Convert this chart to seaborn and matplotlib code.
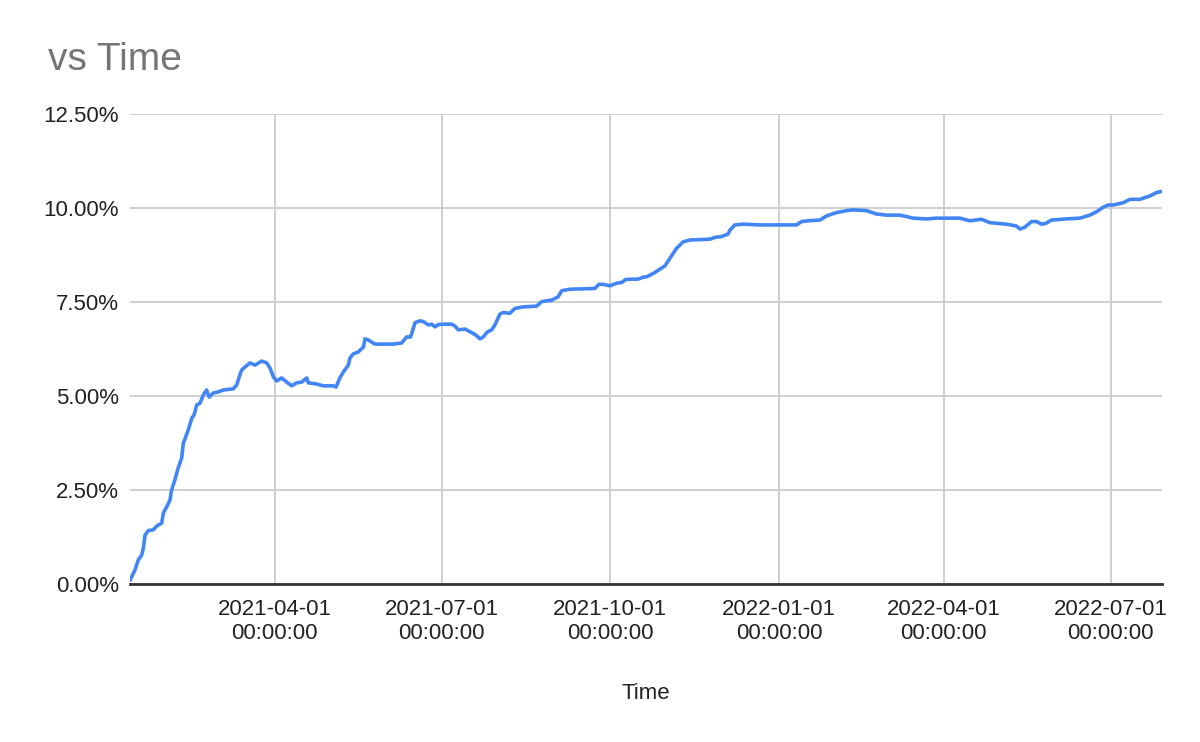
import pandas as pd
import seaborn as sns
import matplotlib.pyplot as plt
from matplotlib.ticker import FuncFormatter

# values: days after the first sample, and % value
start_date = "2021-01-12"
days = [0, 2.7, 4.5, 6.4, 7.3, 8.2, 10.0, 12.7, 14.6, 17.3, 18.2, 20.0, 21.8, 22.7,
        24.5, 26.3, 28.2, 29.1, 30.0, 31.8, 33.7, 34.9, 36.4, 38.2, 40.0, 41.8, 43.2,
        45.4, 48.2, 50.9, 56.3, 58.2, 59.6, 60.9, 62.7, 65.5, 68.2, 71.8, 74.6, 76.4,
        78.2, 80.0, 82.7, 85.5, 88.2, 90.9, 93.7, 96.4, 97.3, 101.8, 105.4, 110.9,
        112.4, 114.5, 116.4, 119.1, 120.0, 121.8, 124.5, 127.3, 128.2, 130.0, 133.6,
        143.6, 148.2, 150.9, 153.1, 155.5, 158.2, 160.0, 162.7, 164.6, 166.4, 168.2,
        170.9, 175.5, 177.3, 179.1, 182.7, 185.5, 188.7, 190.9, 192.7, 194.9, 197.3,
        199.1, 201.8, 203.6, 207.3, 210.0, 214.5, 221.8, 224.6, 230.0, 233.6, 235.5,
        240.0, 247.3, 253.6, 255.8, 258.2, 261.8, 265.5, 268.2, 270.5, 277.3, 280.0,
        281.8, 285.5, 291.8, 294.5, 298.2, 301.8, 305.5, 316.4, 319.1, 322.7, 326.3,
        327.3, 330.0, 334.6, 343.6, 363.6, 366.4, 370.0, 376.4, 380.0, 385.5, 390.9,
        394.5, 401.8, 407.3, 412.7, 420.0, 427.3, 434.6, 440.0, 452.7, 458.2, 464.6,
        469.1, 478.2, 483.6, 485.5, 488.2, 491.8, 494.5, 497.3, 499.6, 502.7, 510.9,
        518.2, 523.6, 527.3, 530.9, 533.6, 536.4, 541.8, 545.5, 550.9, 556.4, 560.0,
        562.7]
values = [0.10, 0.37, 0.64, 0.77, 0.96, 1.30, 1.42, 1.44, 1.54, 1.62, 1.89, 2.05, 2.23, 2.50,
          2.77, 3.09, 3.35, 3.75, 3.86, 4.10, 4.41, 4.49, 4.76, 4.81, 5.03, 5.16, 4.97,
          5.08, 5.11, 5.16, 5.19, 5.29, 5.51, 5.69, 5.77, 5.88, 5.82, 5.93, 5.88, 5.74,
          5.51, 5.40, 5.48, 5.37, 5.27, 5.35, 5.37, 5.48, 5.35, 5.32, 5.27, 5.27,
          5.24, 5.48, 5.64, 5.82, 6.01, 6.12, 6.17, 6.30, 6.52, 6.49, 6.38,
          6.38, 6.41, 6.57, 6.57, 6.95, 7.00, 6.98, 6.89, 6.91, 6.84, 6.90,
          6.91, 6.91, 6.86, 6.76, 6.78, 6.71, 6.62, 6.52, 6.57, 6.70, 6.76,
          6.89, 7.18, 7.22, 7.20, 7.33, 7.37, 7.39, 7.51, 7.55, 7.64, 7.80,
          7.84, 7.85, 7.86, 7.97, 7.97, 7.93, 8.00, 8.02, 8.10, 8.11, 8.16,
          8.17, 8.26, 8.46, 8.66, 8.93, 9.10, 9.15, 9.17, 9.22, 9.24, 9.31,
          9.41, 9.55, 9.57, 9.55, 9.55, 9.64, 9.66, 9.68, 9.79, 9.88, 9.93,
          9.95, 9.93, 9.84, 9.81, 9.81, 9.73, 9.71, 9.73, 9.73, 9.66, 9.70,
          9.61, 9.57, 9.52, 9.44, 9.49, 9.64, 9.64, 9.57, 9.59, 9.68, 9.71,
          9.73, 9.81, 9.90, 10.02, 10.08, 10.08, 10.14, 10.23, 10.23, 10.32, 10.41,
          10.44]
tick_dates = ["2021-04-01", "2021-07-01", "2021-10-01", "2022-01-01", "2022-04-01", "2022-07-01"]
y_ticks = [0, 2.5, 5, 7.5, 10, 12.5]

df = pd.DataFrame({"Time": pd.Timestamp(start_date) + pd.to_timedelta(days, unit="D"),
                   "Value": values})

sns.set_theme(style="white")
plt.rcParams['font.family'] = ['Liberation Sans', 'DejaVu Sans']

fig = plt.figure(figsize=(12, 7.42), dpi=100)
ax = fig.add_axes([130/1200, 1 - 584/742, (1162 - 130)/1200, (584 - 114)/742])

sns.lineplot(data=df, x="Time", y="Value", ax=ax, color="#4285F4", linewidth=2.6,
             solid_joinstyle="round", solid_capstyle="round")

ax.set_xlim(pd.Timestamp("2021-01-12"), pd.Timestamp("2022-07-29"))
ax.set_ylim(0, 12.5)
ax.set_yticks(y_ticks)
ax.yaxis.set_major_formatter(FuncFormatter(lambda v, p: f"{v:.2f}%"))
ax.set_xticks(pd.to_datetime(tick_dates))
ax.set_xticklabels([d + "\n00:00:00" for d in tick_dates], linespacing=1.2)

ax.grid(True, color="#cccccc", linewidth=1.3)
ax.set_axisbelow(True)
for s in ["top", "right", "left"]:
    ax.spines[s].set_visible(False)
ax.spines["bottom"].set_color("#333333")
ax.spines["bottom"].set_linewidth(2)
ax.spines["bottom"].set_zorder(3)

ax.tick_params(axis="both", length=0, labelsize=16, colors="#222222")
ax.tick_params(axis="y", pad=8)
ax.tick_params(axis="x", pad=11)
ax.set_xlabel("Time", fontsize=16, color="#222222", labelpad=28)
ax.set_ylabel("")

fig.text(48/1200, 1 - 70/742, "vs Time", fontsize=28, color="#757575", va="baseline")

fig.savefig("out.png", dpi=100)
